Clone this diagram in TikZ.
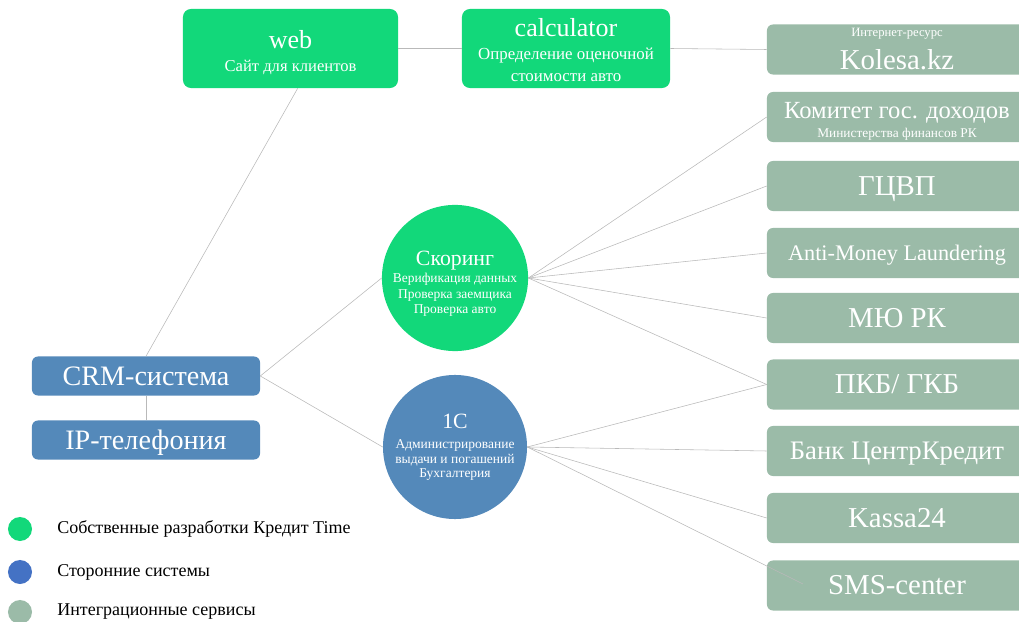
\documentclass[tikz,border=0pt]{standalone}
\usepackage{fontspec}
\setmainfont{Liberation Serif}
\definecolor{owngreen}{RGB}{18,216,122}
\definecolor{extblue}{RGB}{84,137,186}
\definecolor{intgray}{RGB}{155,187,168}
\definecolor{legblue}{RGB}{68,114,196}
\newcommand{\fsz}[1]{\fontsize{#1}{1.15\dimexpr #1pt\relax}\selectfont}
\newcommand{\fsk}[2]{\fontsize{#1}{#2}\selectfont\lineskiplimit=-50pt\relax}
\newcommand{\fs}[1]{\fontsize{#1}{\the\baselineskip}\selectfont}
\newcommand{\tall}[1]{\rule{0pt}{#1}}

\begin{document}
\begin{tikzpicture}
  [
    x=0.025cm, y=-0.025cm,
    own/.style = {fill=owngreen, rounded corners=0.2cm, text=white, align=center, minimum height=1.975cm, inner sep=1pt},
    ext/.style = {fill=extblue, rounded corners=0.15cm, text=white, minimum width=5.7cm, minimum height=0.975cm, inner sep=0pt, font=\fsz{20}, text height=13.2pt, text depth=0pt},
    svc/.style = {fill=intgray, rounded corners=0.15cm, text=white, align=center, minimum width=6.5cm, minimum height=1.25cm, inner sep=0pt, font=\fsz{20.5}},
    svcone/.style = {svc, text height=13.5pt, text depth=0pt},
    hub/.style = {circle, minimum size=3.6cm, text=white, align=center, inner sep=0pt},
    link/.style = {draw=gray!55, line width=0.4pt},
    dot/.style = {circle, minimum size=0.6cm, inner sep=0pt},
    legend/.style = {anchor=west, inner sep=0pt, font=\fsz{12.8}},
  ]

  \useasboundingbox (0,0) rectangle (1019,622);

  % own developments
  \node[own, minimum width=5.375cm, font=\fsk{11.8}{16.4}] (web) at (290.5,48.5) {\fs{18.5}\tall{18pt}web\\ \fs{11.8}Сайт для клиентов};
  \node[own, minimum width=5.2cm, font=\fsk{12}{16}] (calc) at (566,48.5) {\fs{18.5}\tall{15.5pt}calculator\\ \fs{12}Определение оценочной\\ стоимости авто};

  % integration services
  \node[svc, font=\fsk{9}{23.5}] (kolesa) at (897,49.5) {\fs{9}Интернет-ресурс\\ \fs{20.5}Kolesa.kz};
  \node[svc, font=\fsk{9.5}{13.5}] (kgd) at (897,117) {\fs{17.5}\tall{17.3pt}Комитет гос. доходов\\ \fs{9.5}Министерства финансов РК};
  \node[svcone] (gcvp) at (897,186) {ГЦВП};
  \node[svcone, font=\fsz{15.8}, text height=10.4pt] (aml) at (897,253) {Anti-Money Laundering};
  \node[svcone] (myu) at (897,318) {МЮ РК};
  \node[svcone] (pkb) at (897,384.5) {ПКБ/ ГКБ};
  \node[svcone, font=\fsz{19}, text height=12.5pt] (bcc) at (897,451) {Банк ЦентрКредит};
  \node[svcone] (kassa) at (897,518) {Kassa24};
  \node[svcone] (sms) at (897,585.5) {SMS-center};

  % CRM and telephony
  \node[ext] (crm) at (146,376) {CRM-система};
  \node[ext] (ipt) at (146,440) {IP-телефония};

  % hubs
  \node[hub, fill=owngreen, font=\fsk{9.6}{11.4}] (scor) at (455,278) {\fs{15.5}\tall{19pt}Скоринг\\[0.7pt] \fs{9.6}Верификация данных\\ Проверка заемщика\\[-0.7pt] Проверка авто};
  \node[hub, fill=extblue, font=\fsk{9.6}{10.4}] (onec) at (455,447) {\fs{15.5}1C\\[3.8pt] \fs{9.6}Администрирование\\[0.3pt] выдачи и погашений\\[-0.4pt] Бухгалтерия};

  % legend
  \node[dot, fill=owngreen] (d1) at (20,529) {};
  \node[dot, fill=legblue] (d2) at (20,572) {};
  \node[dot, fill=intgray] (d3) at (20,612) {};
  \node[legend] (l1) at (57,529) {Собственные разработки Кредит Time};
  \node[legend] (l2) at (57,572) {Сторонние системы};
  \node[legend] (l3) at (57,612) {Интеграционные сервисы};

  % connectors
  \draw[link] (web.east) -- (calc.west);
  \draw[link] (calc.east) -- (kolesa.west);
  \draw[link] (crm.north) -- ([xshift=0.18cm]web.south);
  \draw[link] (crm.south) -- (ipt.north);
  \draw[link] (crm.east) -- (scor.west);
  \draw[link] (crm.east) -- (onec.west);
  \foreach \t in {kgd, gcvp, aml, myu, pkb}
    \draw[link] (scor.east) -- (\t.west);
  \foreach \t in {pkb, bcc, kassa}
    \draw[link] (onec.east) -- (\t.west);
  \coordinate (smsin) at (803,584);
  \draw[link] (onec.east) -- (smsin);
\end{tikzpicture}
\end{document}
